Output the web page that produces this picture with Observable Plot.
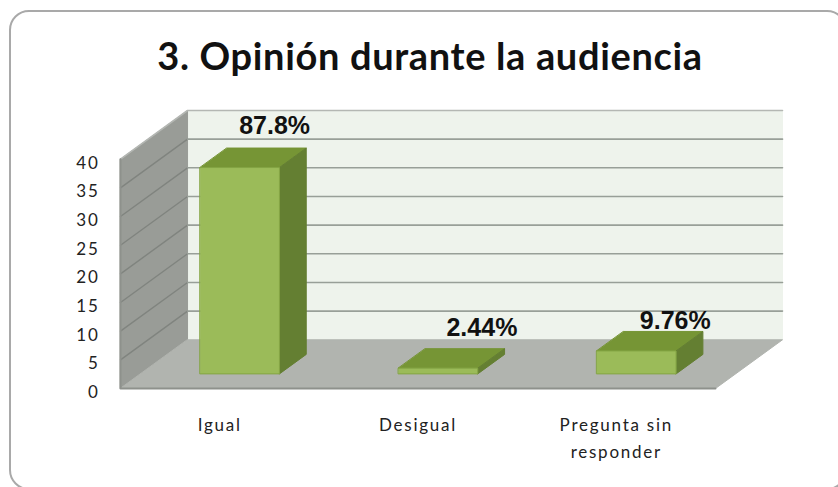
<!DOCTYPE html>
<html lang="es">
<head>
<meta charset="utf-8">
<script src="https://cdn.jsdelivr.net/npm/d3@7"></script>
<script src="https://cdn.jsdelivr.net/npm/@observablehq/plot@0.6"></script>
<style>
  html, body { margin: 0; padding: 0; background: #fff; width: 838px; height: 487px; overflow: hidden; }
  #card { position: absolute; left: 9px; top: 10px; width: 834px; height: 476px; border: 2px solid #a9a9a9; border-radius: 20px; }
  #title { position: absolute; left: 0; top: 32px; width: 860px; margin: 0; text-align: center;
           font: 700 38px/46px Lato, sans-serif; letter-spacing: 0.65px; color: #111; white-space: nowrap; }
  #chart { position: absolute; left: 0; top: 0; }
  [aria-label="x-axis tick label"], [aria-label="y-axis tick label"] { letter-spacing: 1.75px; }
</style>
</head>
<body>
<div id="card"></div>
<h1 id="title">3. Opinión durante la audiencia</h1>
<div id="chart"></div>
<script>
const categories = ["Igual", "Desigual", "Pregunta sin\nresponder"];
const counts = [36, 1, 4];
const percentLabels = ["87.8%", "2.44%", "9.76%"];
const yTicks = [0, 5, 10, 15, 20, 25, 30, 35, 40];

// Oblique projection of the 3D chart: depth d (0 front, 1 back) shifts both data axes.
const depthX = 0.338, depthY = 8.5, yMax = 40, barHalf = 0.2, d0 = 0.3, d1 = 0.7;
const P = (u, v, d = 0) => ({x: u + d * depthX, y: v + d * depthY});
const nCat = categories.length;
const face = (pts, fill, stroke = fill, strokeWidth = 1) =>
  Plot.line(pts, {x: "x", y: "y", fill, stroke, strokeWidth, curve: "linear-closed"});

const barFaces = counts.flatMap((v, i) => {
  const a = i + 0.5 - barHalf, b = i + 0.5 + barHalf;
  return [
    face([P(a, v, d0), P(b, v, d0), P(b, v, d1), P(a, v, d1)], "#769535", "#769535"),
    face([P(b, 0, d0), P(b, 0, d1), P(b, v, d1), P(b, v, d0)], "#647f32", "#647f32"),
    face([P(a, 0, d0), P(b, 0, d0), P(b, v, d0), P(a, v, d0)], "#9bbb59", "#84a544", 1)
  ];
});

const labelNudge = [[8, -22], [17, -21], [12, -10]];

const chart = Plot.plot({
  width: 838,
  height: 487,
  marginLeft: 120,
  marginRight: 56,
  marginTop: 110,
  marginBottom: 99,
  style: {background: "transparent"},
  x: {domain: [0, nCat + depthX], axis: null},
  y: {domain: [0, yMax + depthY], axis: null},
  marks: [
    face([P(0, 0, 1), P(nCat, 0, 1), P(nCat, yMax, 1), P(0, yMax, 1)], "#eef3ec", "#eef3ec"),
    face([P(0, 0, 0), P(0, 0, 1), P(0, yMax, 1), P(0, yMax, 0)], "#999c97", "#999c97"),
    face([P(0, 0, 0), P(nCat, 0, 0), P(nCat, 0, 1), P(0, 0, 1)], "#b1b4af", "#b1b4af"),
    // Gridlines along the left wall, then the back wall
    ...yTicks.slice(1, -1).map(t => Plot.line([P(0, t, 0), P(0, t, 1)],
      {x: "x", y: "y", stroke: "#80847f", strokeWidth: 1.4})),
    ...yTicks.slice(1, -1).map(t => Plot.line([P(0, t, 1), P(nCat, t, 1)],
      {x: "x", y: "y", stroke: "#989f98", strokeWidth: 1.6})),
    Plot.line([P(0, yMax, 0), P(0, yMax, 1), P(nCat, yMax, 1)], {x: "x", y: "y", stroke: "#b4b7b3", strokeWidth: 1.6}),
    Plot.line([P(0, yMax, 0), P(0, 0, 0), P(nCat, 0, 0)], {x: "x", y: "y", stroke: "#8e918c", strokeWidth: 2}),
    ...barFaces,
    Plot.axisY({ticks: yTicks, anchor: "left", tickSize: 0, tickPadding: 21, dy: 4, label: null,
      fontSize: 17, fontFamily: "Lato, sans-serif", color: "#222"}),
    Plot.axisX({ticks: categories.map((c, i) => i + 0.5), tickFormat: (d) => categories[Math.floor(d)],
      anchor: "bottom", tickSize: 0, tickPadding: 23, label: null,
      fontSize: 17, fontFamily: "Lato, sans-serif", color: "#222", lineHeight: 1.6}),
    ...percentLabels.map((text, i) =>
      Plot.text([P(i + 0.5, counts[i], d1)], {
        x: "x", y: "y", text: () => text, dx: labelNudge[i][0], dy: labelNudge[i][1],
        fontFamily: "Liberation Sans, Arial, sans-serif", fontWeight: 700, fontSize: 25, fill: "#111"
      }))
  ]
});
document.getElementById("chart").append(chart);
</script>
</body>
</html>
